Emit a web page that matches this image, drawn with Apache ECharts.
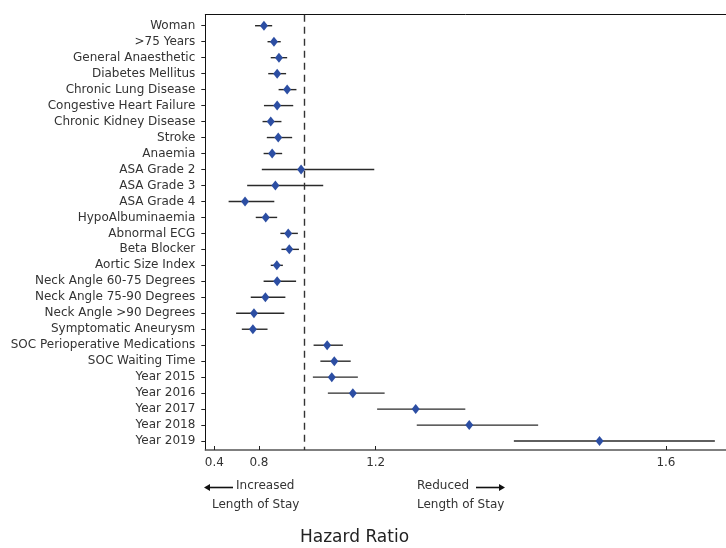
<!DOCTYPE html>
<html>
<head>
<meta charset="utf-8">
<script src="https://cdn.jsdelivr.net/npm/echarts@6/dist/echarts.min.js"></script>
<style>
html,body{margin:0;padding:0;background:#fff;}
#chart{width:726px;height:548px;}
</style>
</head>
<body>
<div id="chart"></div>
<script>
const categories = ["Woman", ">75 Years", "General Anaesthetic", "Diabetes Mellitus", "Chronic Lung Disease",
  "Congestive Heart Failure", "Chronic Kidney Disease", "Stroke", "Anaemia", "ASA Grade 2", "ASA Grade 3",
  "ASA Grade 4", "HypoAlbuminaemia", "Abnormal ECG", "Beta Blocker", "Aortic Size Index",
  "Neck Angle 60-75 Degrees", "Neck Angle 75-90 Degrees", "Neck Angle >90 Degrees", "Symptomatic Aneurysm",
  "SOC Perioperative Medications", "SOC Waiting Time", "Year 2015", "Year 2016", "Year 2017", "Year 2018", "Year 2019"];
const hr = [0.887, 0.915, 0.929, 0.924, 0.952, 0.924, 0.906, 0.927, 0.910, 0.991, 0.919, 0.834, 0.892,
  0.955, 0.958, 0.923, 0.924, 0.891, 0.859, 0.856, 1.064, 1.084, 1.077, 1.136, 1.312, 1.462, 1.827];
const lower = [0.862, 0.897, 0.906, 0.899, 0.928, 0.887, 0.883, 0.895, 0.886, 0.881, 0.840, 0.788, 0.864,
  0.933, 0.936, 0.906, 0.886, 0.850, 0.809, 0.825, 1.026, 1.045, 1.024, 1.066, 1.204, 1.315, 1.587];
const upper = [0.910, 0.934, 0.952, 0.949, 0.978, 0.969, 0.936, 0.966, 0.938, 1.196, 1.053, 0.916, 0.924,
  0.982, 0.985, 0.940, 0.977, 0.947, 0.944, 0.897, 1.108, 1.130, 1.150, 1.225, 1.451, 1.655, 2.150];
const tickValues = [0.748, 0.873, 1.2, 2.013];
const tickLabels = ["0.4", "0.8", "1.2", "1.6"];
const refValue = 1.0;

const chart = echarts.init(document.getElementById('chart'), null, {renderer: 'canvas'});
const idx = categories.map((c, i) => i);
const font = 'DejaVu Sans';

const option = {
  animation: false,
  backgroundColor: '#fff',
  grid: {left: 205.3, right: 0, top: 14.7, bottom: 98, containLabel: false, outerBoundsMode: 'none'},
  xAxis: [{
    type: 'value', min: 0.7227, max: 2.1812, position: 'bottom',
    splitLine: {show: false},
    axisLine: {show: true, onZero: false, lineStyle: {color: '#555', width: 1.5}},
    axisTick: {show: true, inside: true, length: 4, customValues: tickValues, lineStyle: {color: '#222'}},
    axisLabel: {customValues: tickValues, formatter: v => {
      const i = tickValues.findIndex(t => Math.abs(t - v) < 1e-6); return i >= 0 ? tickLabels[i] : '';
    }, color: '#333', fontFamily: font, fontSize: 12, margin: 7}
  }, {
    type: 'value', min: 0.7227, max: 2.1812, position: 'top',
    splitLine: {show: false},
    axisLine: {show: true, onZero: false, lineStyle: {color: '#111', width: 1}},
    axisTick: {show: false}, axisLabel: {show: false}
  }],
  yAxis: {
    type: 'value', inverse: true, min: -0.69, max: 26.56,
    splitLine: {show: false},
    axisLine: {show: true, onZero: false, lineStyle: {color: '#111', width: 1}},
    axisTick: {show: true, length: 4, customValues: idx, lineStyle: {color: '#222'}},
    axisLabel: {customValues: idx, formatter: v => categories[Math.round(v)] || '',
      color: '#333', fontFamily: font, fontSize: 12, margin: 10}
  },
  series: [{
    type: 'custom',
    data: idx.map(i => [lower[i], upper[i], i]),
    renderItem: (params, api) => {
      const a = api.coord([api.value(0), api.value(2)]);
      const b = api.coord([api.value(1), api.value(2)]);
      return {type: 'line', shape: {x1: a[0], y1: a[1], x2: b[0], y2: b[1]},
        style: {stroke: '#2a2a2a', lineWidth: 1.4}};
    },
    encode: {x: [0, 1], y: 2},
    z: 2
  }, {
    type: 'scatter',
    data: idx.map(i => [hr[i], i]),
    symbol: 'diamond', symbolSize: [8, 10],
    itemStyle: {color: '#2c4ea3', opacity: 1},
    z: 3,
    markLine: {
      silent: true, symbol: 'none', label: {show: false},
      lineStyle: {color: '#333', type: [7, 5], width: 1.4},
      data: [{xAxis: refValue}]
    }
  }],
  graphic: [
    {type: 'line', shape: {x1: 207, y1: 487.5, x2: 233, y2: 487.5}, style: {stroke: '#111', lineWidth: 1.6}},
    {type: 'polygon', shape: {points: [[204, 487.5], [210, 484], [210, 491]]}, style: {fill: '#111'}},
    {type: 'text', left: 236, top: 480, style: {text: 'Increased', fill: '#333', font: '12px "DejaVu Sans"'}},
    {type: 'text', left: 212, top: 499, style: {text: 'Length of Stay', fill: '#333', font: '12px "DejaVu Sans"'}},
    {type: 'text', left: 417, top: 480, style: {text: 'Reduced', fill: '#333', font: '12px "DejaVu Sans"'}},
    {type: 'line', shape: {x1: 476, y1: 487.5, x2: 502, y2: 487.5}, style: {stroke: '#111', lineWidth: 1.6}},
    {type: 'polygon', shape: {points: [[505, 487.5], [499, 484], [499, 491]]}, style: {fill: '#111'}},
    {type: 'text', left: 417, top: 499, style: {text: 'Length of Stay', fill: '#333', font: '12px "DejaVu Sans"'}},
    {type: 'text', left: 300, top: 529, style: {text: 'Hazard Ratio', fill: '#222', font: '17px "DejaVu Sans"'}}
  ]
};
chart.setOption(option);
</script>
</body>
</html>
